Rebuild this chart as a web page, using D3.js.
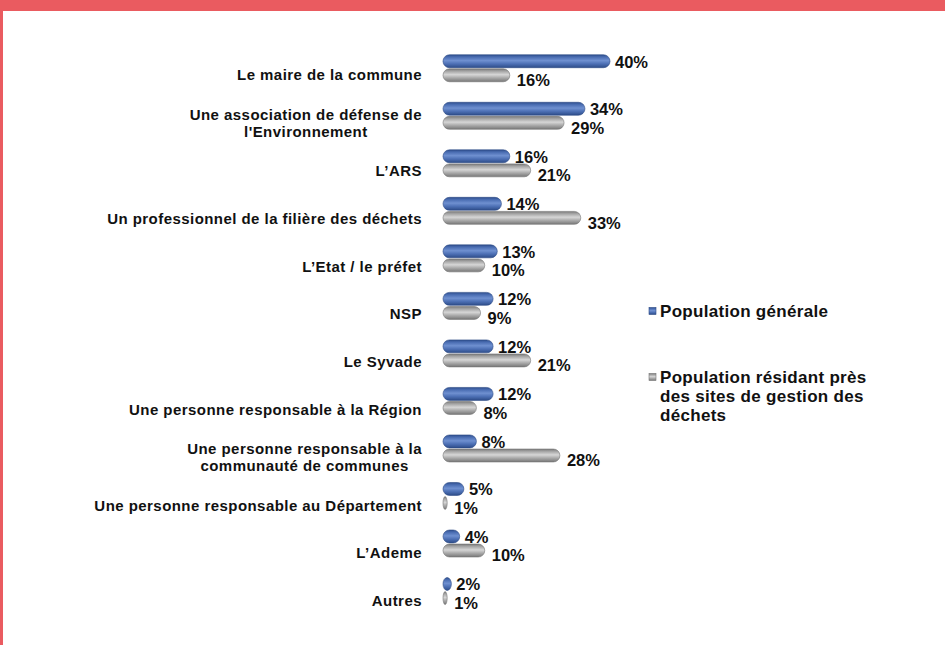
<!DOCTYPE html>
<html>
<head>
<meta charset="utf-8">
<script src="https://cdn.jsdelivr.net/npm/d3@7"></script>
<style>
  html, body { margin: 0; padding: 0; background: #fff; }
  svg { display: block; font-family: "Liberation Sans", Arial, sans-serif; }
</style>
</head>
<body>
<svg id="chart" width="945" height="645"></svg>
<script>
// Interlocuteurs de confiance, en % des répondants
const categories = [
  "Le maire de la commune",
  "Une association de défense de l'Environnement",
  "L'ARS",
  "Un professionnel de la filière des déchets",
  "L'Etat / le préfet",
  "NSP",
  "Le Syvade",
  "Une personne responsable à la Région",
  "Une personne responsable à la communauté de communes",
  "Une personne responsable au Département",
  "L'Ademe",
  "Autres"
];
const categoryLines = [
  ["Le maire de la commune"],
  ["Une association de défense de", "l'Environnement"],
  ["L\u2019ARS"],
  ["Un professionnel de la filière des déchets"],
  ["L\u2019Etat / le préfet"],
  ["NSP"],
  ["Le Syvade"],
  ["Une personne responsable à la Région"],
  ["Une personne responsable à la", "communauté de communes"],
  ["Une personne responsable au Département"],
  ["L\u2019Ademe"],
  ["Autres"]
];
const seriesKeys = ["general", "riverains"];
const seriesNames = ["Population générale", "Population résidant près des sites de gestion des déchets"];
const legendLines = [["Population générale"], ["Population résidant près", "des sites de gestion des", "déchets"]];
const popGenerale = [40, 34, 16, 14, 13, 12, 12, 12, 8, 5, 4, 2];
const popRiverains = [16, 29, 21, 33, 10, 9, 21, 8, 28, 1, 10, 1];

const svg = d3.select("#chart");

// frame: red band on top and on the left edge
svg.append("rect").attr("x", 0).attr("y", 0).attr("width", 945).attr("height", 11).attr("fill", "#ea5b60");
svg.append("rect").attr("x", 0).attr("y", 0).attr("width", 3).attr("height", 645).attr("fill", "#ea5b60");

// gradients for the cylinder look
const defs = svg.append("defs");
function cyl(id, stops) {
  const g = defs.append("linearGradient").attr("id", id)
    .attr("x1", 0).attr("y1", 0).attr("x2", 0).attr("y2", 1);
  stops.forEach(([o, c]) => g.append("stop").attr("offset", o).attr("stop-color", c));
}
cyl("gBlue", [[0, "#2f4f8e"], [0.18, "#4a6db2"], [0.45, "#6f90d0"], [0.7, "#4d70b5"], [1, "#2d4c88"]]);
cyl("gGray", [[0, "#7a7a7a"], [0.18, "#a4a4a4"], [0.45, "#d6d6d6"], [0.7, "#a9a9a9"], [1, "#777777"]]);
const fills = { general: "url(#gBlue)", riverains: "url(#gGray)" };
const strokes = { general: "#2c4a85", riverains: "#767676" };

const x = d3.scaleLinear().domain([0, 45]).range([443, 443 + 45 * 4.175]);
const y = d3.scaleBand().domain(categories).range([44.5, 614.8]).paddingInner(0).paddingOuter(0);
const ySeries = d3.scaleBand().domain(seriesKeys).range([-13.5, 13.5]).paddingInner(0.08);
const yLabel = d3.scalePoint().domain(categories).range([75, 601]);

const rows = categories.map((c, i) => ({ cat: c, lines: categoryLines[i], general: popGenerale[i], riverains: popRiverains[i] }));

// category labels
const lab = svg.append("g").attr("font-weight", "bold").attr("font-size", 15)
  .attr("letter-spacing", 0.45).attr("fill", "#111");
rows.forEach(r => {
  const cy = yLabel(r.cat);
  const lh = 17;
  const n = r.lines.length;
  const t = lab.append("text").attr("text-anchor", "end").attr("x", 422)
    .attr("y", cy - (n - 1) * lh / 2).attr("dy", "0.35em").text(r.lines[0]);
  if (n > 1) {
    const w = t.node().getComputedTextLength();
    for (let k = 1; k < n; k++) {
      lab.append("text").attr("text-anchor", "middle").attr("x", 422 - w / 2)
        .attr("y", cy - (n - 1) * lh / 2 + k * lh).attr("dy", "0.35em").text(r.lines[k]);
    }
  }
});

// bars
const bars = svg.append("g");
rows.forEach(r => {
  seriesKeys.forEach(k => {
    const y0 = y(r.cat) + y.bandwidth() / 2 + ySeries(k);
    const h = ySeries.bandwidth();
    const w = x(r[k]) - x(0);
    bars.append("rect")
      .attr("x", x(0)).attr("y", y0).attr("width", w).attr("height", h)
      .attr("rx", Math.min(h / 2, w / 2)).attr("ry", h / 2)
      .attr("fill", fills[k]).attr("stroke", strokes[k]).attr("stroke-width", 0.6);
  });
});

// value labels
const vals = svg.append("g").attr("font-weight", "bold").attr("font-size", 16.5).attr("fill", "#111");
rows.forEach(r => {
  seriesKeys.forEach((k, j) => {
    const yc = y(r.cat) + y.bandwidth() / 2 + ySeries(k) + ySeries.bandwidth() / 2;
    vals.append("text")
      .attr("x", x(r[k]) + (j === 0 ? 5 : 7))
      .attr("y", yc + (j === 0 ? 0.5 : 5))
      .attr("dy", "0.35em")
      .text(r[k] + "%");
  });
});

// legend
const leg = svg.append("g").attr("font-weight", "bold").attr("font-size", 17)
  .attr("letter-spacing", 0.3).attr("fill", "#111");
const legY = [311, 377];
seriesKeys.forEach((k, i) => {
  leg.append("rect").attr("x", 649).attr("y", legY[i] - 3.5).attr("width", 7).attr("height", 7)
    .attr("fill", fills[k]).attr("stroke", strokes[k]).attr("stroke-width", 0.6);
  legendLines[i].forEach((line, m) => {
    leg.append("text").attr("x", 660).attr("y", legY[i] + m * 19).attr("dy", "0.35em").text(line);
  });
});
</script>
</body>
</html>
